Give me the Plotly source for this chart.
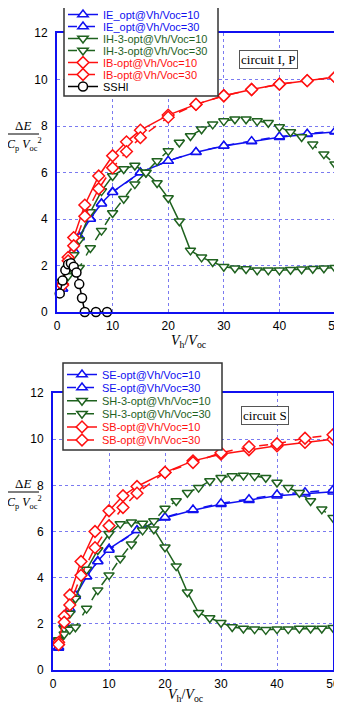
import plotly.graph_objects as go

# ---- data -----------------------------------------------------------------
X_E = [1, 2, 3, 4, 6, 8, 10, 15, 20, 25, 30, 35, 40, 45, 50]
X_H = [1, 2, 3, 4, 6, 8, 10, 12, 14, 16, 18, 20, 22, 24, 26, 28, 30,
       32, 34, 36, 38, 40, 42, 44, 46, 48, 50]
X_B = [1, 2, 3, 5, 7.5, 10, 12.5, 15, 20, 25, 30, 35, 40, 45, 50]
X_SSHI = [0.5, 1, 1.5, 2, 2.5, 3, 3.5, 4, 4.5, 5, 7, 9]

# circuit I, P
IE_10 = [1.0, 2.0, 2.65, 3.25, 4.02, 4.68, 5.17, 6.0, 6.5, 6.87, 7.14, 7.33, 7.52, 7.65, 7.75]
IE_30 = [1.0, 2.0, 2.65, 3.2, 4.0, 4.66, 5.15, 6.0, 6.5, 6.88, 7.15, 7.35, 7.55, 7.67, 7.77]
IH_10 = [1.3, 1.9, 2.45, 3.1, 4.3, 5.2, 5.85, 6.15, 6.3, 6.0, 5.55, 4.9, 3.9, 2.65, 2.35,
         2.15, 1.95, 1.88, 1.85, 1.8, 1.8, 1.8, 1.82, 1.84, 1.86, 1.88, 1.9]
IH_30 = [1.3, 1.55, 1.75, 1.9, 2.75, 3.5, 4.26, 4.87, 5.5, 6.0, 6.5, 6.93, 7.29, 7.57, 7.86,
         8.07, 8.21, 8.29, 8.29, 8.21, 8.14, 7.96, 7.74, 7.53, 7.21, 6.79, 6.36]
IB_10 = [1.2, 2.35, 3.2, 4.6, 5.85, 6.72, 7.32, 7.82, 8.47, 8.93, 9.3, 9.57, 9.8, 9.95, 10.1]
IB_30 = [1.15, 2.2, 2.85, 4.12, 5.3, 6.2, 6.9, 7.5, 8.38, 8.93, 9.3, 9.57, 9.8, 9.95, 10.1]
SSHI = [0.8, 1.35, 1.8, 2.05, 2.1, 1.95, 1.7, 1.2, 0.6, 0.0, 0.0, 0.0]

# circuit S
SE_10 = [0.95, 2.0, 2.6, 3.2, 4.05, 4.72, 5.25, 6.05, 6.6, 6.92, 7.18, 7.35, 7.55, 7.63, 7.72]
SE_30 = [1.0, 2.0, 2.65, 3.25, 4.05, 4.7, 5.2, 6.05, 6.62, 6.95, 7.22, 7.4, 7.6, 7.7, 7.8]
SH_10 = [1.3, 1.8, 2.45, 3.1, 4.35, 5.2, 5.9, 6.33, 6.4, 6.35, 6.1, 5.32, 4.5, 3.37, 2.48,
         2.25, 2.05, 1.86, 1.8, 1.77, 1.74, 1.77, 1.77, 1.8, 1.8, 1.8, 1.83]
SH_30 = [1.25, 1.55, 1.75, 1.85, 2.66, 3.46, 4.11, 4.83, 5.45, 6.05, 6.45, 7.0, 7.32, 7.68, 7.9,
         8.19, 8.33, 8.4, 8.43, 8.4, 8.33, 8.12, 7.9, 7.68, 7.32, 6.96, 6.6]
SB_10 = [1.2, 2.33, 3.25, 4.7, 6.0, 6.9, 7.55, 7.95, 8.56, 9.06, 9.35, 9.54, 9.71, 9.86, 10.0]
SB_30 = [1.1, 2.07, 2.82, 4.1, 5.3, 6.25, 7.04, 7.66, 8.56, 8.99, 9.41, 9.67, 9.8, 10.04, 10.19]

X_TICKS = [0, 10, 20, 30, 40, 50]
Y_TICKS = [0, 2, 4, 6, 8, 10, 12]

BLUE = "#1010f0"
GREEN = "#1f621f"
RED = "#ff1010"
BLACK = "#000000"

# the page body has an 8px margin, so the figure is drawn 8px in from the corner
OFF = 8
W, H = 342 - OFF, 704 - OFF


def px(x, y):
    return (x - OFF) / W, 1 - (y - OFF) / H


# (name, x, y, colour, dash, symbol, size)
TOP = [
    ("IE_opt@Vh/Voc=10", X_E, IE_10, BLUE, "solid", "triangle-up", 9),
    ("IE_opt@Vh/Voc=30", X_E, IE_30, BLUE, "dash", "triangle-up", 9),
    ("IH-3-opt@Vh/Voc=10", X_H, IH_10, GREEN, "solid", "triangle-down", 9),
    ("IH-3-opt@Vh/Voc=30", X_H, IH_30, GREEN, "dash", "triangle-down", 9),
    ("IB-opt@Vh/Voc=10", X_B, IB_10, RED, "solid", "diamond", 9),
    ("IB-opt@Vh/Voc=30", X_B, IB_30, RED, "dash", "diamond", 9),
    ("SSHI", X_SSHI, SSHI, BLACK, "solid", "circle", 9),
]
BOTTOM = [
    ("SE-opt@Vh/Voc=10", X_E, SE_10, BLUE, "solid", "triangle-up", 9),
    ("SE-opt@Vh/Voc=30", X_E, SE_30, BLUE, "dash", "triangle-up", 9),
    ("SH-3-opt@Vh/Voc=10", X_H, SH_10, GREEN, "solid", "triangle-down", 9),
    ("SH-3-opt@Vh/Voc=30", X_H, SH_30, GREEN, "dash", "triangle-down", 9),
    ("SB-opt@Vh/Voc=10", X_B, SB_10, RED, "solid", "diamond", 9),
    ("SB-opt@Vh/Voc=30", X_B, SB_30, RED, "dash", "diamond", 9),
]

fig = go.Figure()
layout_extra = {}
shapes = []
annotations = []

panels = [
    # series, axis suffix, legend left px, first row y, row step, legend box
    (TOP, "", 63, 14.5, 12.0, (64, 1, 218, 96)),
    (BOTTOM, "2", 62, 374.5, 13.1, (63, 363, 222, 450)),
]

n = 0
for series, ax, leg_x, row0, step, box in panels:
    for i, (name, xs, ys, color, dash, symbol, size) in enumerate(series):
        n += 1
        legend_id = "legend" if n == 1 else f"legend{n}"
        fig.add_trace(
            go.Scatter(
                x=xs, y=ys, name=name, mode="lines+markers",
                xaxis="x" + ax, yaxis="y" + ax,
                line={"color": color, "width": 1.5, "dash": dash},
                marker={"symbol": symbol, "size": size, "color": "white",
                        "line": {"color": color, "width": 1.5}},
                cliponaxis=False, legend=legend_id,
            )
        )
        lx, ly = px(leg_x, row0 + i * step)
        layout_extra[legend_id] = {
            "x": lx, "y": ly, "xanchor": "left", "yanchor": "middle",
            "bgcolor": "rgba(0,0,0,0)", "borderwidth": 0, "itemwidth": 30,
            "font": {"family": "Liberation Sans, Arial, sans-serif", "size": 11, "color": color},
        }
    x0, y0 = px(box[0], box[3])
    x1, y1 = px(box[2], box[1])
    shapes.append({"type": "rect", "xref": "paper", "yref": "paper",
                   "x0": x0, "y0": y0, "x1": x1, "y1": y1, "layer": "above",
                   "fillcolor": "white", "line": {"color": "#333333", "width": 1.5}})

axis_common = {
    "range": [0, 50], "tickvals": X_TICKS, "showgrid": True, "gridcolor": "#7a7af0",
    "griddash": "dot", "gridwidth": 1, "showline": True, "mirror": True,
    "linecolor": BLUE, "linewidth": 2, "zeroline": False, "ticks": "",
    "tickfont": {"family": "Liberation Sans, Arial, sans-serif", "size": 12, "color": "black"},
    "ticklabelstandoff": 2, "ticklabeloverflow": "allow",
}
yaxis_common = dict(axis_common, range=[0, 12], tickvals=Y_TICKS, ticklabelstandoff=5)

# plot areas in pixels: (left, top, right, bottom)
areas = {"": (57, 33, 335, 312), "2": (53, 393, 333, 670)}
for ax, (l, t, r, b) in areas.items():
    xl, yb = px(l, b)
    xr, yt = px(r, t)
    layout_extra["xaxis" + ax] = dict(axis_common, domain=[xl, xr], anchor="y" + ax)
    layout_extra["yaxis" + ax] = dict(yaxis_common, domain=[yb, yt], anchor="x" + ax)

serif = {"family": "Liberation Serif, Times New Roman, serif", "size": 13, "color": "black"}


def label(text, x, y, **kw):
    ax_, ay_ = px(x, y)
    annotations.append(dict(text=text, x=ax_, y=ay_, xref="paper", yref="paper",
                            xanchor="center", yanchor="middle", showarrow=False,
                            font=kw.pop("font", serif), **kw))


for num_y, bar_y, den_y in [(125, 134, 144), (483, 492, 502)]:
    label("Δ<i>E</i>", 23, num_y)
    label("<i>C</i><sub>p</sub> <i>V</i><sub>oc</sub><sup>2</sup>", 24, den_y,
          font=dict(serif, size=12))
    x0, y0 = px(8, bar_y)
    x1, _ = px(39, bar_y)
    shapes.append({"type": "line", "xref": "paper", "yref": "paper",
                   "x0": x0, "x1": x1, "y0": y0, "y1": y0,
                   "line": {"color": "black", "width": 1}})

label("<i>V</i><sub>h</sub>/<i>V</i><sub>oc</sub>", 189, 341, font=dict(serif, size=14))
label("<i>V</i><sub>h</sub>/<i>V</i><sub>oc</sub>", 186, 695, font=dict(serif, size=14))

label("circuit I, P", 268, 60, bgcolor="white",
      bordercolor="#555555", borderwidth=1, borderpad=1)
label("circuit S", 265, 416, bgcolor="white",
      bordercolor="#555555", borderwidth=1, borderpad=1)

fig.update_layout(
    width=W, height=H, template="none",
    margin={"l": 0, "r": 0, "t": 0, "b": 0, "autoexpand": False},
    paper_bgcolor="white", plot_bgcolor="white",
    showlegend=True, shapes=shapes, annotations=annotations,
    **layout_extra,
)
fig.write_html("out.html")
